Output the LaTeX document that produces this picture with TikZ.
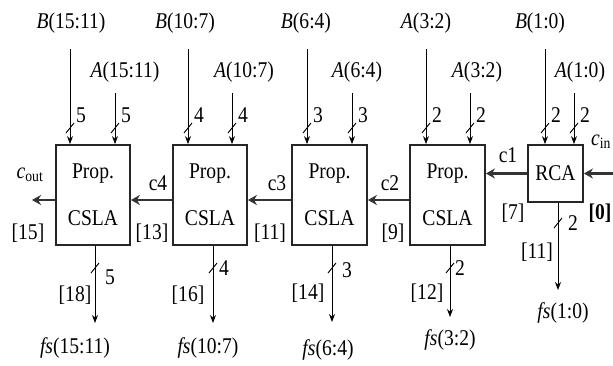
\documentclass[tikz,border=0pt]{standalone}
\usepackage{fontspec}
\setmainfont{Liberation Serif}[FakeStretch=0.87]
\usetikzlibrary{arrows.meta}
\begin{document}
\begin{tikzpicture}[x=1pt,y=-1pt,
  lbl/.style={inner sep=0pt,font=\fontsize{22.5}{24}\selectfont},
  blk/.style={draw,line width=1.8pt,draw=black!85,inner sep=0pt,align=center,font=\fontsize{22.5}{47}\selectfont},
  inarrow/.style={line width=0.9pt,-{Stealth[length=8pt,width=6pt]}},
  carry/.style={line width=2.6pt,draw=black!80,-{Stealth[length=9pt,width=10pt]}},
  slashmark/.style={line width=0.9pt}]
\useasboundingbox (0,0) rectangle (613,365);
% blocks
\node[blk,minimum width=74pt,minimum height=100pt] (b1) at (93,195) {Prop.\\CSLA};
\node[blk,minimum width=74pt,minimum height=100pt] (b2) at (210,195) {Prop.\\CSLA};
\node[blk,minimum width=75pt,minimum height=100pt] (b3) at (329.5,195) {Prop.\\CSLA};
\node[blk,minimum width=75pt,minimum height=100pt] (b4) at (447.5,195) {Prop.\\CSLA};
\node[blk,minimum width=55pt,minimum height=57pt] (rca) at (555.5,173.5) {RCA};
% input start points
\foreach \n/\xb/\xa/\w in {b1/70/115/5, b2/188/232/4, b3/307/352/3, b4/426/470/2, rca/545/574/2}{
  \coordinate (B\n) at (\xb,49);
  \coordinate (A\n) at (\xa,93);
  \draw[inarrow] (B\n) -- (B\n |- \n.north);
  \draw[inarrow] (A\n) -- (A\n |- \n.north);
  \draw[slashmark] ([shift={(-4pt,-5pt)}]B\n |- 0,128) -- ([shift={(4pt,5pt)}]B\n |- 0,128);
  \draw[slashmark] ([shift={(-4pt,-5pt)}]A\n |- 0,128) -- ([shift={(4pt,5pt)}]A\n |- 0,128);
  \node[lbl] at ([xshift=11pt]B\n |- 0,115) {\w};
  \node[lbl] at ([xshift=11pt]A\n |- 0,115) {\w};
}
% input labels
\node[lbl] at (71,23) {\textit{B}(15:11)};
\node[lbl] at (185,23) {\textit{B}(10:7)};
\node[lbl] at (306,23) {\textit{B}(6:4)};
\node[lbl] at (426,23) {\textit{A}(3:2)};
\node[lbl] at (540,23) {\textit{B}(1:0)};
\node[lbl] at (125,72) {\textit{A}(15:11)};
\node[lbl] at (244,72) {\textit{A}(10:7)};
\node[lbl] at (357,72) {\textit{A}(6:4)};
\node[lbl] at (477,72) {\textit{A}(3:2)};
\node[lbl] at (580,72) {\textit{A}(1:0)};
% outputs
\foreach \n/\xo/\yo/\ys/\w/\wx/\wy in {b1/95/323/268/5/110/277, b2/213/323/268/4/224/268, b3/332/322/268/3/347/270, b4/450/317/268/2/460/268, rca/558/290/223/2/573/223}{
  \coordinate (O\n) at (\xo,\yo);
  \draw[inarrow] (O\n |- \n.south) -- (O\n);
  \draw[slashmark] ([shift={(-4pt,-5pt)}]O\n |- 0,\ys) -- ([shift={(4pt,5pt)}]O\n |- 0,\ys);
  \node[lbl] at (\wx,\wy) {\w};
}
\node[lbl] at (75,295) {[18]};
\node[lbl] at (188,295) {[16]};
\node[lbl] at (308,293) {[14]};
\node[lbl] at (427,293) {[12]};
\node[lbl] at (537,252) {[11]};
\node[lbl] at (75,348) {\textit{fs}(15:11)};
\node[lbl] at (208,348) {\textit{fs}(10:7)};
\node[lbl] at (328,350) {\textit{fs}(6:4)};
\node[lbl] at (450,340) {\textit{fs}(3:2)};
\node[lbl] at (563,313) {\textit{fs}(1:0)};
% carries
\coordinate (cout) at (32,200);
\coordinate (cin) at (616,173.5);
\draw[carry] (cin) -- (rca.east);
\draw[carry] (rca.west) -- (b4.east |- rca.west);
\draw[carry] ([yshift=-5pt]b4.west) -- ([yshift=-5pt]b3.east);
\draw[carry] ([yshift=-5pt]b3.west) -- ([yshift=-5pt]b2.east);
\draw[carry] ([yshift=-5pt]b2.west) -- ([yshift=-5pt]b1.east);
\draw[carry] ([yshift=-5pt]b1.west) -- (cout);
\node[lbl] at (30,175) {\textit{c}\textsubscript{out}};
\node[lbl] at (28,233) {[15]};
\node[lbl] at (158,183) {c4};
\node[lbl] at (152,233) {[13]};
\node[lbl] at (277,183) {c3};
\node[lbl] at (270,233) {[11]};
\node[lbl] at (390,183) {c2};
\node[lbl] at (393,233) {[9]};
\node[lbl] at (508,155) {c1};
\node[lbl] at (513,213) {[7]};
\node[lbl] at (601,142) {\textit{c}\textsubscript{in}};
\node[lbl,font=\fontsize{22.5}{24}\selectfont\bfseries] at (600,213) {[0]};
\end{tikzpicture}
\end{document}
